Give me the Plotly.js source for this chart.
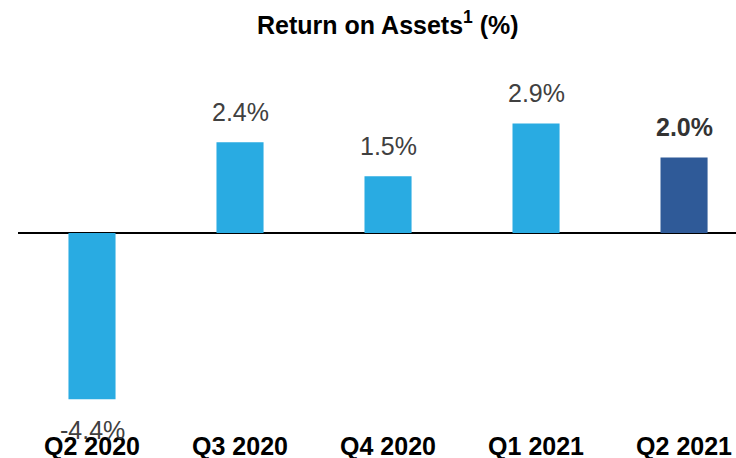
<!DOCTYPE html>
<html>
<head>
<meta charset="utf-8">
<script src="https://cdn.plot.ly/plotly-3.0.1.min.js"></script>
<style>
html,body{margin:0;padding:0;background:#fff;}
#chart{width:736px;height:458px;}
</style>
</head>
<body>
<div id="chart"></div>
<script>
const categories = ["Q2 2020", "Q3 2020", "Q4 2020", "Q1 2021", "Q2 2021"];
const roaValues = [-4.4, 2.4, 1.5, 2.9, 2.0];
const valueLabels = ["-4.4%", "2.4%", "1.5%", "2.9%", "2.0%"];
const highlighted = [false, false, false, false, true];

const barColors = highlighted.map(h => h ? "#2F5A98" : "#29ABE2");

const trace = {
  type: "bar",
  x: categories,
  y: roaValues,
  marker: {color: barColors, line: {width: 0}},
  hoverinfo: "skip"
};

const annotations = categories.map((c, i) => ({
  x: c,
  y: roaValues[i],
  xref: "x",
  yref: "y",
  text: highlighted[i] ? "<b>" + valueLabels[i] + "</b>" : valueLabels[i],
  showarrow: false,
  yanchor: "middle",
  xanchor: "center",
  yshift: roaValues[i] >= 0 ? 30 : -31,
  font: {family: "Liberation Sans, Arial, sans-serif", size: 25, color: highlighted[i] ? "#333333" : "#404040"}
}));

const layout = {
  width: 736,
  height: 458,
  margin: {l: 18, r: 0, t: 60, b: 38},
  paper_bgcolor: "#ffffff",
  plot_bgcolor: "#ffffff",
  showlegend: false,
  bargap: 0.682,
  title: {
    text: "<b>Return on Assets<sup>1</sup> (%)</b>",
    x: 0.527,
    xanchor: "center",
    y: 0.945,
    yanchor: "middle",
    font: {family: "Liberation Sans, Arial, sans-serif", size: 25, color: "#000000"}
  },
  xaxis: {
    type: "category",
    range: [-0.5, 4.351],
    showline: false,
    showgrid: false,
    zeroline: false,
    ticks: "",
    ticklabelstandoff: 9,
    tickfont: {family: "Liberation Sans, Arial, sans-serif", size: 25, color: "#000000", weight: "bold"}
  },
  yaxis: {
    range: [-4.947, 4.577],
    showgrid: false,
    showline: false,
    showticklabels: false,
    ticks: "",
    zeroline: true,
    zerolinecolor: "#000000",
    zerolinewidth: 1.5
  },
  annotations: annotations
};

Plotly.newPlot("chart", [trace], layout, {staticPlot: true, displayModeBar: false});
</script>
</body>
</html>
